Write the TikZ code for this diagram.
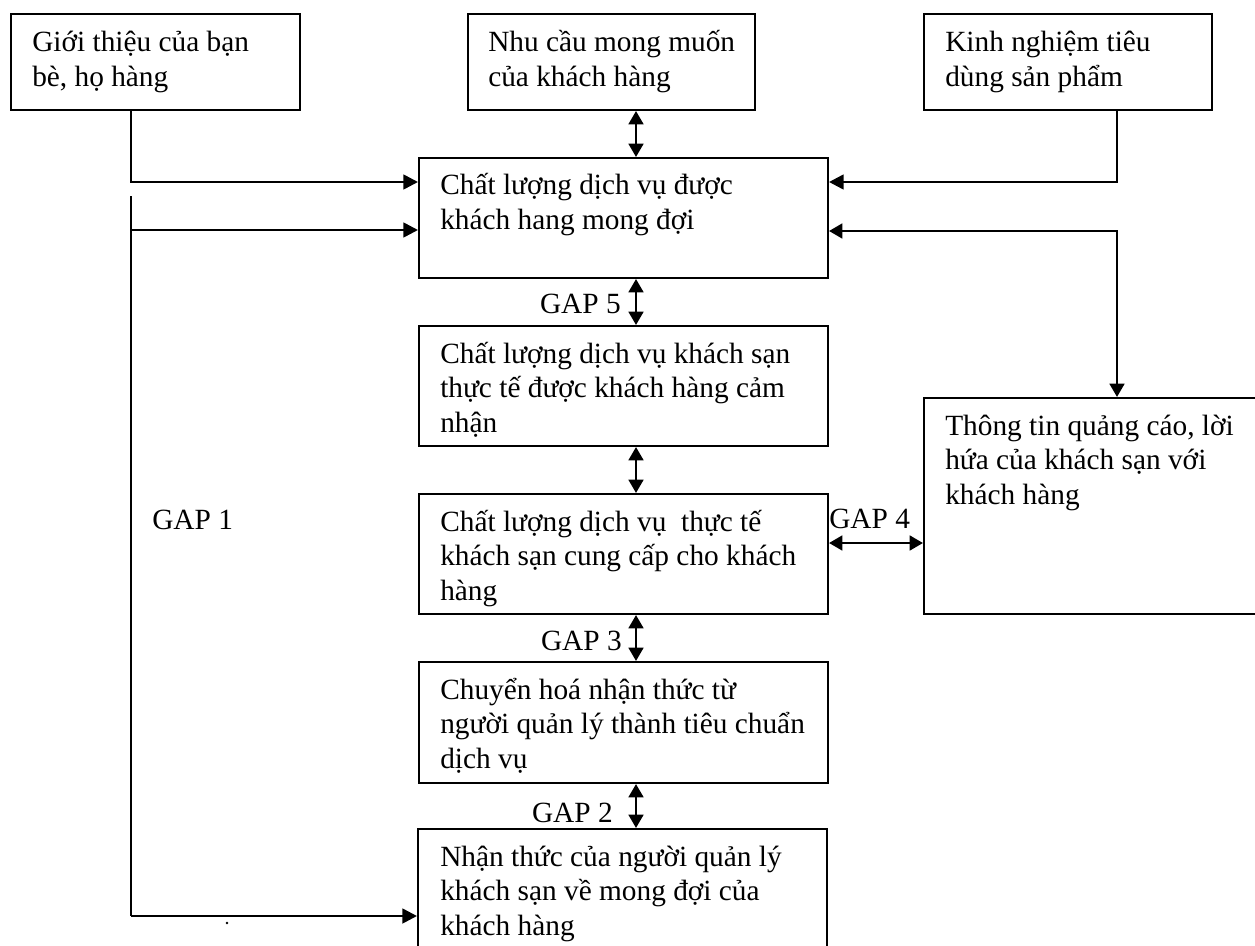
\documentclass[tikz,border=0pt]{standalone}
\usepackage{fontspec}
\setmainfont{Liberation Serif}
\usetikzlibrary{arrows.meta,fit}

% multi-line text whose reference point is the first baseline
\newcommand{\boxlines}[1]{\begin{tabular}[t]{@{}l@{}}#1\end{tabular}}

\begin{document}
\begin{tikzpicture}[x=0.75pt,y=-0.75pt,
  box/.style={draw=black,line width=1.5pt,inner sep=0pt},
  txt/.style={anchor=base west,inner sep=0pt,font=\fontsize{22}{26.2}\selectfont},
  gaplabel/.style={inner sep=0pt,font=\fontsize{22}{26.2}\selectfont},
  conn/.style={line width=2pt},
  arr/.style={conn,-{Triangle[length=11pt,width=11pt]}},
  both/.style={conn,{Triangle[length=10pt,width=11pt]}-{Triangle[length=10pt,width=11pt]}}]

\useasboundingbox (0,0) rectangle (1255,945);

% --- boxes ---
\node[box,fit={(11,14) (300,110)}]   (A) {};
\node[box,fit={(468,14) (755,110)}]  (B) {};
\node[box,fit={(924,14) (1212,110)}] (C) {};
\node[box,fit={(419,158) (828,278)}] (D) {};
\node[box,fit={(419,326) (828,446)}] (F) {};
\node[box,fit={(419,494) (828,614)}] (G) {};
\node[box,fit={(419,662) (828,783)}] (H) {};
\node[box,fit={(418,829) (827,965)}] (I) {};
\node[box,fit={(924,398) (1265,614)}] (E) {};

% --- box texts ---
\node[txt] (tA) at (32,52)  {\boxlines{Giới thiệu của bạn\\bè, họ hàng}};
\node[txt] (tB) at (488,52) {\boxlines{Nhu cầu mong muốn\\của khách hàng}};
\node[txt] (tC) at (945,52) {\boxlines{Kinh nghiệm tiêu\\dùng sản phẩm}};
\node[txt] (tD) at (440,195) {\boxlines{Chất lượng dịch vụ được\\khách hang mong đợi}};
\node[txt] (tF) at (440,363) {\boxlines{Chất lượng dịch vụ khách sạn\\thực tế được khách hàng cảm\\nhận}};
\node[txt] (tG) at (440,531) {\boxlines{Chất lượng dịch vụ\ \ thực tế\\khách sạn cung cấp cho khách\\hàng}};
\node[txt] (tH) at (440,699) {\boxlines{Chuyển hoá nhận thức từ\\người quản lý thành tiêu chuẩn\\dịch vụ}};
\node[txt] (tI) at (440,866) {\boxlines{Nhận thức của người quản lý\\khách sạn về mong đợi của\\khách hàng}};
\node[txt] (tE) at (945,435) {\boxlines{Thông tin quảng cáo, lời\\hứa của khách sạn với\\khách hàng}};

% --- gap labels ---
\node[gaplabel,anchor=base east] (g5) at (621,313) {GAP 5};
\node[gaplabel,anchor=base east] (g3) at (622,650) {GAP 3};
\node[gaplabel,anchor=base east] (g2) at (613,822) {GAP 2};
\node[gaplabel,anchor=base west] (g4) at (829,528) {GAP 4};
\node[gaplabel,anchor=base west] (g1) at (152,529) {GAP 1};

% --- routing points ---
\coordinate (mx)   at (636,0);
\coordinate (jl1)  at (131,182);
\coordinate (jl2)  at (131,230);
\coordinate (ltop) at (131,196);
\coordinate (lbot) at (131,916);
\coordinate (jr1)  at (1117,182);
\coordinate (jr2)  at (1117,231);
\coordinate (g4y)  at (0,543);

% --- connectors on the left ---
\draw[arr] (A.south -| jl1) |- (D.west |- jl1);
\draw[conn] (ltop) -- (lbot);
\draw[arr] (jl2) -- (D.west |- jl2);
\draw[arr] (lbot) -- (I.west |- lbot);

% --- connectors on the right ---
\draw[arr] (C.south -| jr1) |- (D.east |- jr1);
\draw[both] (D.east |- jr2) -| (E.north -| jr2);
\draw[both] (G.east |- g4y) -- (E.west |- g4y);

% --- central column ---
\draw[both] (B.south -| mx) -- (D.north -| mx);
\draw[both] (D.south -| mx) -- (F.north -| mx);
\draw[both] (F.south -| mx) -- (G.north -| mx);
\draw[both] (G.south -| mx) -- (H.north -| mx);
\draw[both] (H.south -| mx) -- (I.north -| mx);

% stray mark below the bottom branch
\fill (227,923) circle (1.3);
\end{tikzpicture}
\end{document}
